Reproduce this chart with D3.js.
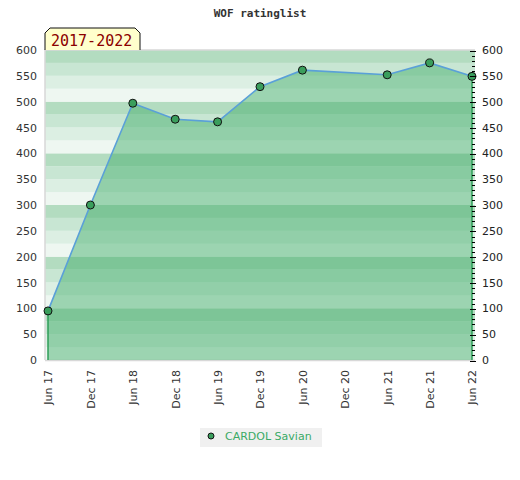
<!DOCTYPE html>
<html>
<head>
<meta charset="utf-8">
<script src="https://cdn.jsdelivr.net/npm/d3@7"></script>
<style>
  body { margin: 0; background: #fff; }
  text { font-family: "DejaVu Sans", sans-serif; }
</style>
</head>
<body>
<div id="chart"></div>
<script>
// half-year periods and rating values (null = no entry)
var periods = ['Jun 17', 'Dec 17', 'Jun 18', 'Dec 18', 'Jun 19', 'Dec 19',
               'Jun 20', 'Dec 20', 'Jun 21', 'Dec 21', 'Jun 22'];
var ratings = [95, 300, 497, 466, 461, 529, 561, null, 552, 575, 549];
var yTicks = [0, 50, 100, 150, 200, 250, 300, 350, 400, 450, 500, 550, 600];
var playerName = 'CARDOL Savian';
var rangeLabel = '2017-2022';
var chartTitle = 'WOF ratinglist';

var w = 520, h = 480;
var svg = d3.select('#chart')
  .append('svg')
  .attr('width', w)
  .attr('height', h);

var x = d3.scalePoint().domain(periods).range([48, 472]);
var y = d3.scaleLinear().domain([0, 600]).range([360, 50]);

var plotLeft = 45, plotRight = 475;

// striped background, 25 units per band, 4 shades per 100
var shades = ['#eef7f1', '#dcefe3', '#c8e6d3', '#b3dcc0'];
var bands = d3.range(0, 600, 25);
svg.append('g').selectAll('rect')
  .data(bands)
  .join('rect')
  .attr('x', plotLeft)
  .attr('width', plotRight - plotLeft)
  .attr('y', d => y(d + 25))
  .attr('height', d => y(d) - y(d + 25))
  .style('fill', d => shades[(d % 100) / 25]);

// plot frame (left, top, bottom)
svg.append('path')
  .attr('d', 'M' + plotLeft + ',' + y(0) + 'V' + y(600) + 'H' + plotRight)
  .style('fill', 'none')
  .style('stroke', '#d8d8d8')
  .style('stroke-width', 1.5);
svg.append('line')
  .attr('x1', plotLeft).attr('x2', plotRight)
  .attr('y1', y(0) + 0.5).attr('y2', y(0) + 0.5)
  .style('stroke', '#d8d8d8')
  .style('stroke-width', 1.5);

var pts = periods.map((p, i) => ({ p: p, v: ratings[i] })).filter(d => d.v != null);

// area under the line
var area = d3.area()
  .x(d => x(d.p))
  .y0(y(0))
  .y1(d => y(d.v));
svg.append('path')
  .datum(pts)
  .attr('d', area)
  .style('fill', 'rgb(63,172,104)')
  .style('fill-opacity', 0.47);

// green side edges of the area
var first = pts[0], last = pts[pts.length - 1];
[first, last].forEach(function (d) {
  svg.append('line')
    .attr('x1', x(d.p)).attr('x2', x(d.p))
    .attr('y1', y(d.v)).attr('y2', y(0))
    .style('stroke', '#2e9e58')
    .style('stroke-width', 1.5);
});

// rating line
var line = d3.line()
  .x(d => x(d.p))
  .y(d => y(d.v));
svg.append('path')
  .datum(pts)
  .attr('d', line)
  .style('fill', 'none')
  .style('stroke', '#5aa0d8')
  .style('stroke-width', 1.6);

// markers
svg.append('g').selectAll('circle')
  .data(pts)
  .join('circle')
  .attr('cx', d => x(d.p))
  .attr('cy', d => y(d.v))
  .attr('r', 4)
  .style('fill', '#3a9e5c')
  .style('stroke', '#111')
  .style('stroke-width', 1);

// left axis labels
var leftAxis = svg.append('g')
  .attr('transform', 'translate(' + plotLeft + ',0)')
  .call(d3.axisLeft(y).tickValues(yTicks).tickSize(0).tickPadding(8));
leftAxis.select('.domain').remove();
leftAxis.selectAll('text')
  .style('font-size', '11px')
  .style('fill', '#333');

// right axis with minor ticks
var rx = 472;
svg.append('g')
  .attr('transform', 'translate(' + rx + ',0)')
  .call(d3.axisRight(y).tickValues(d3.range(0, 601, 10)).tickSize(3).tickFormat(''))
  .call(g => g.select('.domain').remove())
  .selectAll('line')
  .attr('transform', 'translate(0,0.5)')
  .style('stroke', '#000')
  .style('shape-rendering', 'crispEdges');
var rightAxis = svg.append('g')
  .attr('transform', 'translate(' + rx + ',0)')
  .call(d3.axisRight(y).tickValues(yTicks).tickSizeInner(4).tickSizeOuter(0).tickPadding(6));
rightAxis.select('.domain').remove();
rightAxis.selectAll('line')
  .attr('x1', -2)
  .attr('transform', 'translate(0,0.5)')
  .style('stroke', '#000')
  .style('shape-rendering', 'crispEdges');
rightAxis.selectAll('text')
  .style('font-size', '11px')
  .style('fill', '#222');

// bottom axis, rotated labels
var bottomAxis = svg.append('g')
  .attr('transform', 'translate(0,' + y(0) + ')')
  .call(d3.axisBottom(x).tickSize(0));
bottomAxis.select('.domain').remove();
bottomAxis.selectAll('text')
  .attr('transform', 'rotate(-90)')
  .attr('x', -10)
  .attr('y', 0)
  .attr('dy', '0.35em')
  .style('text-anchor', 'end')
  .style('font-size', '11px')
  .style('fill', '#333');

// title
svg.append('text')
  .text(chartTitle)
  .attr('x', 260)
  .attr('y', 17)
  .style('text-anchor', 'middle')
  .style('font-family', '"DejaVu Sans Mono", monospace')
  .style('font-weight', 'bold')
  .style('font-size', '11px')
  .style('fill', '#333');

// period tab
svg.append('path')
  .attr('d', 'M45,50V33L50,28H135L140,33V50')
  .style('fill', '#ffffcc')
  .style('stroke', '#111')
  .style('stroke-width', 1);
svg.append('text')
  .text(rangeLabel)
  .attr('x', 51)
  .attr('y', 46)
  .style('font-family', '"DejaVu Sans Mono", monospace')
  .style('font-size', '15px')
  .style('fill', '#8b0000');

// legend
var lg = svg.append('g').attr('transform', 'translate(200,428)');
lg.append('rect')
  .attr('width', 122)
  .attr('height', 19)
  .style('fill', '#f0f0f0');
lg.append('circle')
  .attr('cx', 11).attr('cy', 8).attr('r', 3)
  .style('fill', '#3a9e5c')
  .style('stroke', '#111');
lg.append('text')
  .text(playerName)
  .attr('x', 25)
  .attr('y', 12)
  .style('font-size', '11px')
  .style('fill', '#3aaa66');
</script>
</body>
</html>
